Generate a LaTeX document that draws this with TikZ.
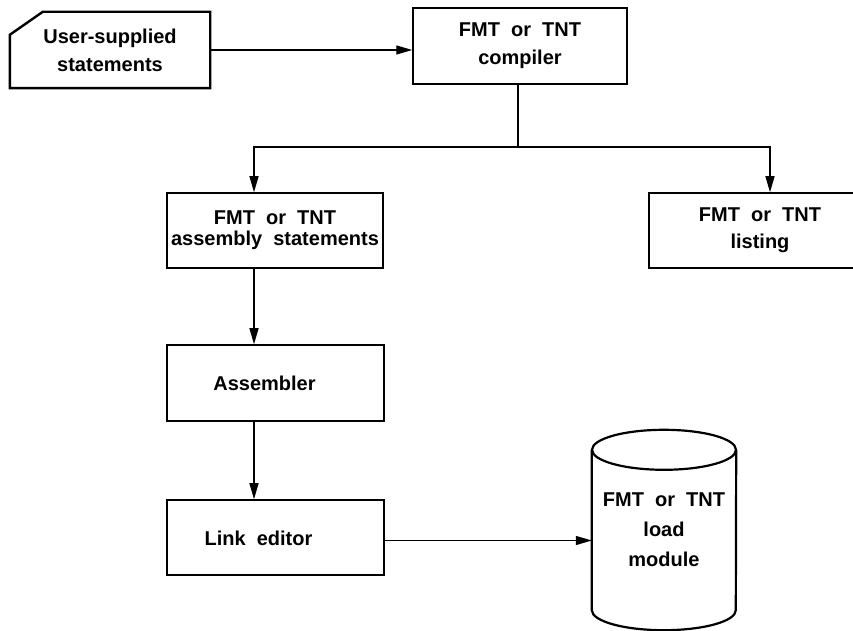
\documentclass[tikz,border=0pt]{standalone}
\usepackage{fontspec}
\setmainfont[WordSpace=2]{Liberation Sans}
\usetikzlibrary{arrows.meta}
\begin{document}
\begin{tikzpicture}[x=1pt,y=1pt,
  txt/.style={font=\bfseries\fontsize{20}{28}\selectfont, align=center},
  box/.style={txt, draw, line width=1.5pt, inner sep=0pt},
  plain/.style={txt, inner sep=0pt},
  conn/.style={line width=1.3pt},
  arr/.style={conn, -{Triangle[length=16pt,width=9pt]}}]
\useasboundingbox (0,0) rectangle (853,631);
\clip (0,0) rectangle (853,631);

% input card with a cut corner
\node[plain, minimum width=200pt, minimum height=76pt] (card) at (110,581)
  {User-supplied\\statements};
\draw[line width=2.4pt, line join=miter]
  ([yshift=-23pt]card.north west) -- ([xshift=33pt]card.north west)
  -- (card.north east) -- (card.south east) -- (card.south west) -- cycle;

% process boxes
\node[box, minimum width=214pt, minimum height=76pt] (comp) at (520,585)
  {FMT or TNT\\compiler};
\node[box, minimum width=222pt, minimum height=75pt, font=\bfseries\fontsize{20}{27}\selectfont] (lst) at (760,400.5)
  {FMT or TNT\\listing};
\node[box, minimum width=216pt, minimum height=75pt, font=\bfseries\fontsize{20}{21}\selectfont] (asm) at (275,400.5)
  {FMT or TNT\\assembly statements};
\node[box, minimum width=217pt, minimum height=76pt,
  label={[plain, xshift=-11pt]center:Assembler}] (asmb) at (275.5,248) {};
\node[box, minimum width=217pt, minimum height=75pt,
  label={[plain, xshift=-17pt, yshift=-1pt]center:Link editor}] (link) at (275.5,93.5) {};

% load module drum
\node[plain, minimum width=144pt, minimum height=160pt, font=\bfseries\fontsize{20}{30}\selectfont] (cyl) at (664,101)
  {FMT or TNT\\load\\module};
\draw[line width=2.2pt]
  (cyl.north west) -- (cyl.south west) arc[start angle=180, end angle=360, x radius=72pt, y radius=20pt]
  -- (cyl.north east);
\draw[line width=2.2pt] (cyl.north) ellipse[x radius=72pt, y radius=20pt];

% connectors
\draw[arr] (card.east) -- (card.east -| comp.west);
\coordinate (j) at (518,484);
\draw[conn] (comp.south -| j) -- (j);
\draw[arr] (j) -| ([xshift=-21pt]asm.north);
\draw[arr] (j) -| ([xshift=10pt]lst.north);
\draw[arr] ([xshift=-21pt]asm.south) -- ([xshift=-21.5pt]asmb.north);
\draw[arr] ([xshift=-21.5pt]asmb.south) -- ([xshift=-21.5pt]link.north);
\draw[arr] ([yshift=-3pt]link.east) -- ([yshift=-3pt]link.east -| cyl.west);
\end{tikzpicture}
\end{document}
